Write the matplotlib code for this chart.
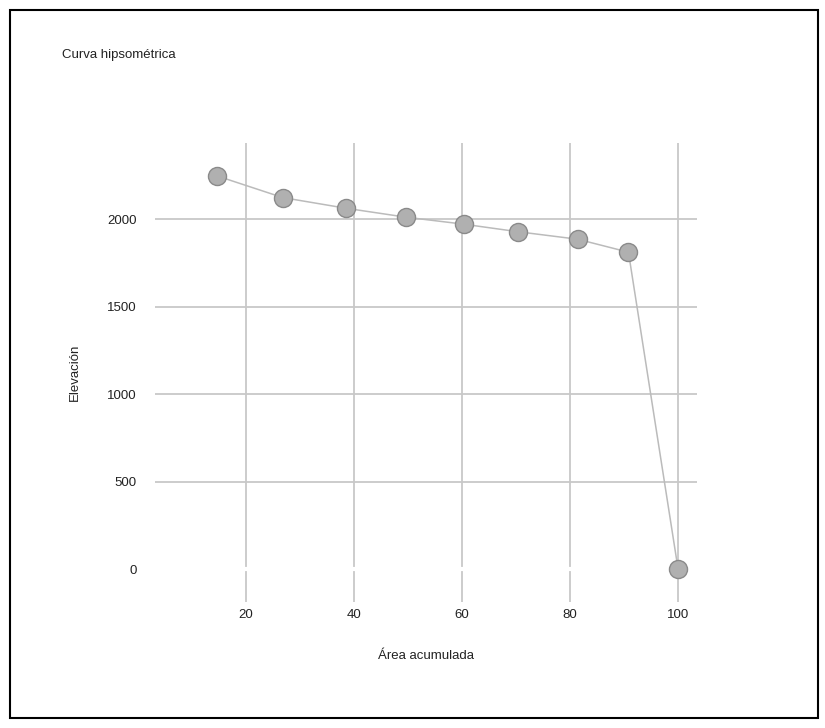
import matplotlib.pyplot as plt
from matplotlib.patches import Rectangle

# Datos de la curva hipsométrica
area_acumulada = [14.6, 26.8, 38.5, 49.6, 60.3, 70.3, 81.4, 90.8, 100.0]
elevacion = [2249, 2125, 2064, 2013, 1973, 1930, 1887, 1813, 0]
x_ticks = [20, 40, 60, 80, 100]
y_ticks = [0, 500, 1000, 1500, 2000]

plt.rcParams['font.family'] = ['Liberation Sans', 'DejaVu Sans']

fig = plt.figure(figsize=(8.25, 7.28), dpi=100)
ax = fig.add_axes([0.1879, 0.1731, 0.6570, 0.6305])

# Black frame round the whole chart
fig.patches.append(Rectangle((10 / 825, 10 / 728), 808 / 825, 708 / 728,
                             transform=fig.transFigure, fill=False,
                             edgecolor='black', linewidth=1.5))

ax.set_xlim(3.15, 103.5)
ax.set_ylim(-186, 2437)

# Grid drawn by hand so the zero line can be white
for xv in x_ticks:
    ax.axvline(xv, color='#c8c8c8', linewidth=1.3, zorder=0)
for yv in y_ticks[1:]:
    ax.axhline(yv, color='#c8c8c8', linewidth=1.3, zorder=0)
ax.axhline(0, color='white', linewidth=3, zorder=1)

ax.plot(area_acumulada, elevacion, color='#bbbbbb', linewidth=1.1, zorder=2)
ax.plot(area_acumulada, elevacion, linestyle='none', marker='o', markersize=13,
        markerfacecolor='#b0b0b0', markeredgecolor='#8a8a8a',
        markeredgewidth=1.0, zorder=3)

ax.set_xticks(x_ticks)
ax.set_yticks(y_ticks)
ax.tick_params(axis='both', length=0, labelsize=9.5, colors='#222222')
ax.tick_params(axis='y', pad=13)
ax.tick_params(axis='x', pad=5)
for s in ax.spines.values():
    s.set_visible(False)

ax.set_xlabel('Área acumulada', fontsize=9.5, color='#222222', labelpad=21)
ax.set_ylabel('Elevación', fontsize=9.5, color='#222222', labelpad=19)

fig.text(62 / 825, 1 - 55 / 728, 'Curva hipsométrica', fontsize=9.5,
         color='#222222', ha='left', va='center')

fig.savefig('out.png', dpi=100)
